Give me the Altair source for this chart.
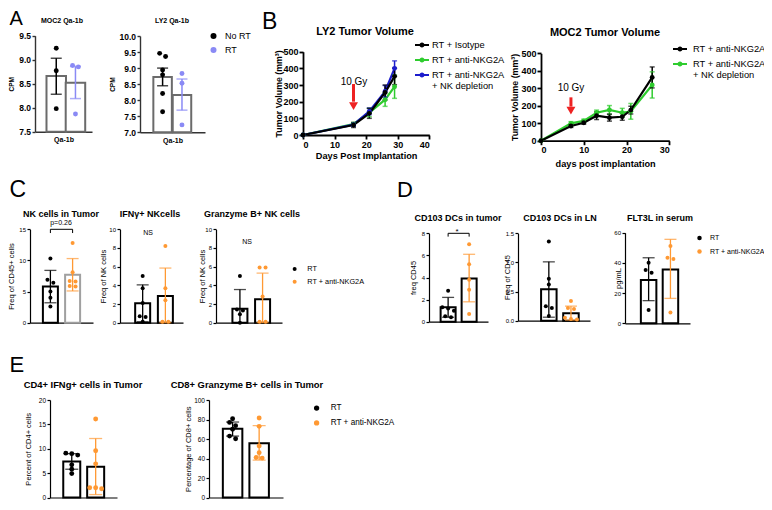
import altair as alt
import pandas as pd

FONT = "Liberation Sans"
W, H = 756, 494
M = 8  # page margin: reference pixel -> chart pixel

BLACK = "#000000"
LAVENDER = "#8a8af5"
ORANGE = "#ff9933"
GREEN = "#2ecc2e"
BLUE = "#1c1ccc"
RED = "#ee2222"
GRAY_BAR = "#6b6b6b"
LIGHT_BAR = "#a0a0a0"

# ---------------- data ----------------
A_GROUPS = ["No RT", "RT"]
A1_NO_RT = [9.24, 8.77, 7.98]
A1_RT = [8.88, 8.85, 7.87]
A1_MEAN = [8.66, 8.52]
A1_LOW = [8.28, 8.19]
A1_HIGH = [9.03, 8.86]

A2_NO_RT = [9.46, 9.36, 8.94, 8.79, 8.21, 7.64]
A2_RT = [8.83, 8.53, 7.23]
A2_MEAN = [8.72, 8.16]
A2_LOW = [8.45, 7.69]
A2_HIGH = [9.00, 8.66]

B1_SERIES = ["RT + Isotype", "RT + anti-NKG2A", "RT + anti-NKG2A + NK depletion"]
B1_DAYS = [0, 16, 21, 26, 29]
B1_ISOTYPE = [0, 60, 130, 255, 352]
B1_ISOTYPE_ERR = [0, 15, 30, 45, 50]
B1_ANTI = [0, 65, 135, 212, 290]
B1_ANTI_ERR = [0, 10, 25, 40, 70]
B1_NKDEP = [0, 62, 142, 262, 400]
B1_NKDEP_ERR = [0, 10, 20, 35, 45]
B1_ARROW = [16, 306, 200, 174]  # day, shaft top, shaft bottom, head centre

B2_SERIES = ["RT + anti-NKG2A", "RT + anti-NKG2A + NK depletion"]
B2_DAYS = [0, 7, 10, 13, 16, 19, 21, 26]
B2_ANTI = [0, 84, 103, 143, 132, 137, 175, 362]
B2_ANTI_ERR = [0, 8, 8, 22, 20, 20, 22, 60]
B2_NKDEP = [0, 99, 113, 160, 176, 160, 168, 319]
B2_NKDEP_ERR = [0, 10, 10, 15, 25, 25, 45, 75]
B2_ARROW = [7, 248, 195, 172]

GROUPS = ["RT", "RT + anti-NKG2A"]
C1_RT = [10.3, 6.9, 6.4, 5.0, 4.0, 2.6]
C1_ANTI = [12.8, 8.1, 6.7, 6.6, 5.9, 5.8]
C1_MEAN = [5.8, 7.7]
C1_LOW = [3.2, 5.1]
C1_HIGH = [8.4, 10.3]
C1_BRACKET = [14.4, 15.0, 15.0, 14.4]

C2_RT = [5.0, 3.7, 2.1, 0.7, 0.6, 0.1]
C2_ANTI = [8.2, 3.7, 2.4, 0.1, 0.1]
C2_MEAN = [2.07, 2.85]
C2_LOW = [0.1, 0.0]
C2_HIGH = [4.05, 5.85]

C3_RT = [5.0, 1.4, 1.3, 0.9, 0.0]
C3_ANTI = [5.9, 5.9, 2.8, 0.1, 0.1]
C3_MEAN = [1.5, 2.5]
C3_LOW = [0.0, 0.0]
C3_HIGH = [3.55, 5.3]

D1_RT = [2.8, 1.3, 1.2, 1.0, 0.5, 0.4]
D1_ANTI = [7.0, 5.2, 3.8, 2.9, 0.7]
D1_MEAN = [1.3, 3.92]
D1_LOW = [0.4, 1.8]
D1_HIGH = [2.2, 6.1]
D1_BRACKET = [7.7, 8.0, 8.0, 7.7]

D2_RT = [1.36, 0.72, 0.62, 0.25, 0.22, 0.08]
D2_ANTI = [0.34, 0.22, 0.20, 0.05, 0.03, 0.02]
D2_MEAN = [0.54, 0.13]
D2_LOW = [0.06, 0.01]
D2_HIGH = [1.01, 0.25]

D3_RT = [40.1, 35.3, 33.5, 8.8]
D3_ANTI = [51.2, 43.4, 42.6, 7.1]
D3_MEAN = [28.7, 35.7]
D3_LOW = [15.0, 16.5]
D3_HIGH = [43.4, 55.6]

E1_RT = [9.1, 9.0, 8.7, 6.7, 5.8, 4.9]
E1_ANTI = [16.1, 9.6, 6.9, 2.0, 2.0, 1.8]
E1_MEAN = [7.4, 6.3]
E1_LOW = [5.8, 0.6]
E1_HIGH = [9.0, 12.1]

E2_RT = [80.8, 77.0, 73.7, 70.0, 63.0, 60.3]
E2_ANTI = [81.5, 73.0, 52.9, 46.0, 41.0, 40.4]
E2_MEAN = [70.4, 55.6]
E2_LOW = [63.0, 38.4]
E2_HIGH = [77.4, 73.7]

# ---------------- helpers ----------------


def cond_color(groups, colors):
    conds = [{"test": "datum.grp === '%s'" % g, "value": c}
             for g, c in zip(groups[:-1], colors[:-1])]
    return alt.value(colors[-1], condition=conds)


def spread(vals, ppu, gap=7.0, thr=3.5):
    idx = sorted(range(len(vals)), key=lambda i: -vals[i])
    clusters = []
    for i in idx:
        if clusters and (vals[clusters[-1][-1]] - vals[i]) * ppu < thr:
            clusters[-1].append(i)
        else:
            clusters.append([i])
    off = [0.0] * len(vals)
    for cl in clusters:
        n = len(cl)
        for k, i in enumerate(cl):
            off[i] = (k - (n - 1) / 2) * gap
    return off


def dot_legend(x, y, size, font, offset, rowpad):
    return alt.Legend(orient="none", legendX=x - M, legendY=y - M, title=None,
                      direction="vertical", symbolType="circle", symbolSize=size,
                      symbolStrokeWidth=0, labelFont=FONT, labelFontSize=font,
                      labelOffset=offset, rowPadding=rowpad, padding=0,
                      labelLimit=300, labelColor="black")


ST_A = dict(dw=1.4, axis_color="#333333", tick=3, lab_size=8.5, lab_weight="bold",
            lab_pad=1.5, yt_size=6.5, yt_weight="bold", xt_size=7, xt_dy=4,
            bar_sw=2, ew=1.5, cap=11, dot=24)
ST_C = dict(dw=1.2, axis_color="black", tick=3, lab_size=6, lab_weight="normal",
            lab_pad=1.5, yt_size=7.5, yt_weight="normal", bar_sw=2, ew=1.3,
            cap=12, dot=16)
ST_E = dict(ST_C, lab_size=6.5, dot=24, cap=13)


def bar_panel(groups, point_sets, means, lows, highs, ydom, yvals, yfmt,
              xgeom, ygeom, point_colors, bar_strokes, ytitle, ytitle_right, st,
              xtitle=None, legend=None, bracket=None):
    a, b, c1, c2, bw = xgeom
    y0, y1 = ygeom
    s = c2 - c1
    xs = alt.Scale(domain=[-(c1 - a) / s, 1 + (b - c2) / s], range=[a - M, b - M],
                   nice=False, zero=False)
    ys = alt.Scale(domain=ydom, range=[y0 - M, y1 - M], zero=False, nice=False)
    xkw = dict(orient="bottom", offset=(y0 - M) - H, labels=False, ticks=False,
               domainWidth=st["dw"], domainColor=st["axis_color"], grid=False)
    if xtitle:
        xkw.update(title=xtitle, titleFontSize=st["xt_size"], titleFontWeight="bold",
                   titleX=(a + b) / 2 - M, titleY=st["xt_dy"], titleAlign="center",
                   titleBaseline="top", titleColor="black")
    else:
        xkw["title"] = None
    xaxis = alt.Axis(**xkw)
    yaxis = alt.Axis(orient="left", offset=-(a - M), values=yvals, format=yfmt,
                     title=ytitle, titleX=ytitle_right - a, titleY=(y0 + y1) / 2 - M,
                     titleAngle=270, titleAlign="center", titleBaseline="bottom",
                     titleFontSize=st["yt_size"], titleFontWeight=st["yt_weight"],
                     titleColor="black", labelFontSize=st["lab_size"],
                     labelFontWeight=st["lab_weight"], labelPadding=st["lab_pad"],
                     labelColor="black", tickSize=st["tick"], tickWidth=st["dw"],
                     domainWidth=st["dw"], domainColor=st["axis_color"],
                     tickColor=st["axis_color"], grid=False)

    def X(f):
        return alt.X(f, scale=xs, axis=xaxis)

    def Y(f):
        return alt.Y(f, scale=ys, axis=yaxis)

    bdf = pd.DataFrame({"grp": groups, "pos": [0, 1], "mean": means, "lo": lows,
                        "hi": highs})
    ppu = (y0 - y1) / (ydom[1] - ydom[0])
    rows = []
    for gi, (g, vals) in enumerate(zip(groups, point_sets)):
        offs = spread(vals, ppu)
        for v, o in zip(vals, offs):
            rows.append({"grp": g, "v": v, "pos": gi + o / s})
    pdf = pd.DataFrame(rows)

    pc = cond_color(groups, point_colors)
    bars = alt.Chart(bdf).mark_bar(fill="white", strokeWidth=st["bar_sw"], opacity=1,
                                   size=bw, orient="vertical").encode(
        x=X("pos:Q"), y=Y("mean:Q"), y2=alt.datum(ydom[0]),
        stroke=cond_color(groups, bar_strokes))
    err = alt.Chart(bdf).mark_rule(strokeWidth=st["ew"]).encode(
        x=X("pos:Q"), y=Y("lo:Q"), y2="hi:Q", color=pc)
    cap_lo = alt.Chart(bdf).mark_tick(orient="horizontal", size=st["cap"],
                                      thickness=st["ew"]).encode(
        x=X("pos:Q"), y=Y("lo:Q"), color=pc)
    cap_hi = alt.Chart(bdf).mark_tick(orient="horizontal", size=st["cap"],
                                      thickness=st["ew"]).encode(
        x=X("pos:Q"), y=Y("hi:Q"), color=pc)
    if legend is not None:
        col = alt.Color("grp:N", scale=alt.Scale(domain=groups, range=point_colors),
                        legend=legend)
    else:
        col = pc
    pts = alt.Chart(pdf).mark_circle(size=st["dot"], opacity=1).encode(
        x=X("pos:Q"), y=Y("v:Q"), color=col)
    layers = [bars, err, cap_lo, cap_hi, pts]
    if bracket is not None:
        brdf = pd.DataFrame({"pos": [0, 0, 1, 1], "y": bracket, "k": [0, 1, 2, 3]})
        layers.append(alt.Chart(brdf).mark_line(color="black", strokeWidth=1).encode(
            x=X("pos:Q"), y=Y("y:Q"), order="k:Q"))
    return alt.layer(*layers)


B_LEGEND_PATH = ("M-1,-0.16L1,-0.16L1,0.16L-1,0.16Z "
                 "M0.36,0A0.36,0.36,0,1,1,-0.36,0A0.36,0.36,0,1,1,0.36,0Z")
B_LABEL_EXPR = ("datum.label == 'RT + anti-NKG2A + NK depletion' ? "
                "['RT + anti-NKG2A', '  + NK depletion'] : datum.label")


def line_panel(names, colors, days, series, errs, draw_order, xdom, xvals, xgeom,
               ydom, yvals, ygeom, xtitle, xtitle_top, ytitle, ytitle_right,
               legend_xy, label_offset, arrow):
    x0, x1 = xgeom
    y0, y1 = ygeom
    rows = []
    for i in draw_order:
        for d, v, e in zip(days, series[i], errs[i]):
            rows.append(dict(day=d, v=v, lo=v - e, hi=v + e, err=e, grp=names[i]))
    df = pd.DataFrame(rows)
    xs = alt.Scale(domain=xdom, range=[x0 - M, x1 - M], nice=False, zero=False)
    ys = alt.Scale(domain=ydom, range=[y0 - M, y1 - M], nice=False, zero=False)
    xaxis = alt.Axis(orient="bottom", offset=(y0 - M) - H, values=xvals, format="d",
                     title=xtitle, titleX=(x0 + x1) / 2 - M, titleY=xtitle_top - y0,
                     titleAlign="center", titleBaseline="top", titleFontSize=9.2,
                     titleFontWeight="bold", titleColor="black", labelFontSize=9,
                     labelFontWeight="bold", labelColor="black", labelPadding=1,
                     tickSize=4, tickWidth=1.8, domainWidth=1.8, domainColor="black",
                     tickColor="black", grid=False)
    yaxis = alt.Axis(orient="left", offset=-(x0 - M), values=yvals, format="d",
                     title=ytitle, titleX=ytitle_right - x0, titleY=(y0 + y1) / 2 - M,
                     titleAngle=270, titleAlign="center", titleBaseline="bottom",
                     titleFontSize=8.8, titleFontWeight="bold", titleColor="black",
                     labelFontSize=9, labelFontWeight="bold", labelColor="black",
                     labelPadding=1, tickSize=4, tickWidth=1.8, domainWidth=1.8,
                     domainColor="black", tickColor="black", grid=False)

    def X(f):
        return alt.X(f, scale=xs, axis=xaxis)

    def Y(f):
        return alt.Y(f, scale=ys, axis=yaxis)

    leg = alt.Legend(orient="none", legendX=legend_xy[0] - M, legendY=legend_xy[1] - M,
                     title=None, direction="vertical", symbolType=B_LEGEND_PATH,
                     symbolSize=196, symbolStrokeWidth=0, labelFont=FONT,
                     labelFontSize=9.3, labelOffset=label_offset, rowPadding=2,
                     padding=0, labelLimit=300, labelColor="black",
                     labelExpr=B_LABEL_EXPR)
    cc = cond_color(names, colors)
    lines = alt.Chart(df).mark_line(strokeWidth=2.2).encode(
        x=X("day:Q"), y=Y("v:Q"), detail="grp:N", color=cc)
    edf = alt.Chart(df).transform_filter("datum.err > 0")
    err = edf.mark_rule(strokeWidth=1.5).encode(
        x=X("day:Q"), y=Y("lo:Q"), y2="hi:Q", color=cc)
    cap_lo = edf.mark_tick(orient="horizontal", size=5, thickness=1.5).encode(
        x=X("day:Q"), y=Y("lo:Q"), color=cc)
    cap_hi = edf.mark_tick(orient="horizontal", size=5, thickness=1.5).encode(
        x=X("day:Q"), y=Y("hi:Q"), color=cc)
    pts = alt.Chart(df).mark_circle(size=24, opacity=1).encode(
        x=X("day:Q"), y=Y("v:Q"),
        color=alt.Color("grp:N", scale=alt.Scale(domain=names, range=colors), legend=leg))
    adf = pd.DataFrame({"day": [arrow[0]], "top": [arrow[1]], "bottom": [arrow[2]],
                        "head": [arrow[3]]})
    shaft = alt.Chart(adf).mark_rule(color=RED, strokeWidth=3).encode(
        x=X("day:Q"), y=Y("top:Q"), y2="bottom:Q")
    head = alt.Chart(adf).mark_point(shape="triangle-down", filled=True, size=80,
                                     color=RED, opacity=1, strokeWidth=0).encode(
        x=X("day:Q"), y=Y("head:Q"))
    return alt.layer(lines, err, cap_lo, cap_hi, pts, shaft, head)


def label(text, x, y, size, weight="normal", align="center", baseline="middle"):
    return alt.Chart(pd.DataFrame({"t": [text]})).mark_text(
        text=text, fontSize=size, fontWeight=weight, align=align, baseline=baseline,
        color="black", font=FONT).encode(x=alt.value(x - M), y=alt.value(y - M))


# ---------------- panels ----------------
layers = []

# A
layers.append(bar_panel(A_GROUPS, [A1_NO_RT, A1_RT], A1_MEAN, A1_LOW, A1_HIGH,
                        [7.5, 9.5], [7.5, 8.0, 8.5, 9.0, 9.5], ".1f",
                        (35, 92, 54.7, 78, 19.5), (131.7, 35.7),
                        [BLACK, LAVENDER], [GRAY_BAR, GRAY_BAR], "CPM", 14.5, ST_A,
                        xtitle="Qa-1b"))
layers.append(bar_panel(A_GROUPS, [A2_NO_RT, A2_RT], A2_MEAN, A2_LOW, A2_HIGH,
                        [7.0, 10.0], [7.0, 7.5, 8.0, 8.5, 9.0, 9.5, 10.0], ".1f",
                        (140, 205, 160.8, 183.7, 18.5), (132.3, 36),
                        [BLACK, LAVENDER], [GRAY_BAR, GRAY_BAR], "CPM", 115, ST_A,
                        xtitle="Qa-1b",
                        legend=dot_legend(209, 31.5, 36, 9, 7, 4)))

# B
layers.append(line_panel(B1_SERIES, [BLACK, GREEN, BLUE], B1_DAYS,
                         [B1_ISOTYPE, B1_ANTI, B1_NKDEP],
                         [B1_ISOTYPE_ERR, B1_ANTI_ERR, B1_NKDEP_ERR], [1, 2, 0],
                         [0, 40], [0, 10, 20, 30, 40], (303, 429.3),
                         [0, 500], [0, 100, 200, 300, 400, 500], (135, 51.7),
                         "Days Post Implantation", 151, "Tumor Volume (mm³)", 283,
                         (415, 38), 3, B1_ARROW))
layers.append(line_panel(B2_SERIES, [BLACK, GREEN], B2_DAYS,
                         [B2_ANTI, B2_NKDEP], [B2_ANTI_ERR, B2_NKDEP_ERR], [1, 0],
                         [0, 30], [0, 10, 20, 30], (541, 669.3),
                         [0, 500], [0, 100, 200, 300, 400, 500], (140.7, 53.3),
                         "days post implantation", 159, "Tumor Volume (mm³)", 519,
                         (673, 42), 6, B2_ARROW))

# C
layers.append(bar_panel(GROUPS, [C1_RT, C1_ANTI], C1_MEAN, C1_LOW, C1_HIGH,
                        [0, 15], [0, 5, 10, 15], "d", (30, 93, 48.3, 74.7, 15),
                        (322.7, 229.3), [BLACK, ORANGE], [BLACK, LIGHT_BAR],
                        "Freq of  CD45+ cells", 15, ST_C, bracket=C1_BRACKET))
layers.append(bar_panel(GROUPS, [C2_RT, C2_ANTI], C2_MEAN, C2_LOW, C2_HIGH,
                        [0, 10], [0, 2, 4, 6, 8, 10], "d", (120, 183, 141, 168, 15),
                        (322.7, 229.3), [BLACK, ORANGE], [BLACK, BLACK],
                        "Freq of  NK cells", 107, ST_C))
layers.append(bar_panel(GROUPS, [C3_RT, C3_ANTI], C3_MEAN, C3_LOW, C3_HIGH,
                        [0, 10], [0, 2, 4, 6, 8, 10], "d", (216, 282, 238.3, 265, 15),
                        (322.7, 229.3), [BLACK, ORANGE], [BLACK, BLACK],
                        "Freq of  NK cells", 206, ST_C,
                        legend=dot_legend(291, 265.3, 16, 7.3, 9, 4.7)))

# D
layers.append(bar_panel(GROUPS, [D1_RT, D1_ANTI], D1_MEAN, D1_LOW, D1_HIGH,
                        [0, 8], [0, 2, 4, 6, 8], "d", (429, 488, 446, 471.3, 15),
                        (321.7, 233.3), [BLACK, ORANGE], [BLACK, BLACK],
                        "freq CD45", 417, ST_C, bracket=D1_BRACKET))
layers.append(bar_panel(GROUPS, [D2_RT, D2_ANTI], D2_MEAN, D2_LOW, D2_HIGH,
                        [0, 1.5], [0, 0.5, 1.0, 1.5], ".1f", (518, 590, 548, 573.7, 15.5),
                        (320.7, 233.3), [BLACK, ORANGE], [BLACK, BLACK],
                        "Freq of CD45", 511, ST_C))
layers.append(bar_panel(GROUPS, [D3_RT, D3_ANTI], D3_MEAN, D3_LOW, D3_HIGH,
                        [0, 60], [0, 20, 40, 60], "d", (625, 690, 647, 672.8, 15.5),
                        (323.3, 232.7), [BLACK, ORANGE], [BLACK, BLACK],
                        "pg/mL", 622, ST_C,
                        legend=dot_legend(696, 234.5, 20, 7, 7, 5.5)))

# E (bottom axis kept inside the page)
layers.append(bar_panel(GROUPS, [E1_RT, E1_ANTI], E1_MEAN, E1_LOW, E1_HIGH,
                        [0, 20], [0, 5, 10, 15, 20], "d", (50, 117, 69.7, 97.8, 17),
                        (497.5, 400), [BLACK, ORANGE], [BLACK, BLACK],
                        "Percent of  CD4+ cells", 32, ST_E))
layers.append(bar_panel(GROUPS, [E2_RT, E2_ANTI], E2_MEAN, E2_LOW, E2_HIGH,
                        [0, 100], [0, 20, 40, 60, 80, 100], "d", (209, 283, 230.5, 261.2, 19.5),
                        (497.5, 400), [BLACK, ORANGE], [BLACK, BLACK],
                        "Percentage of  CD8+ cells", 192, ST_E,
                        legend=dot_legend(312.5, 404, 28, 8.2, 10, 5.8)))

# text: panel letters, titles, annotations
texts = [
    ("A", 9.5, 25, 20, "normal", "left", "alphabetic"),
    ("B", 262, 28.5, 23, "normal", "left", "alphabetic"),
    ("C", 9.5, 197, 23, "normal", "left", "alphabetic"),
    ("D", 397, 197, 22, "normal", "left", "alphabetic"),
    ("E", 9.5, 372, 22, "normal", "left", "alphabetic"),
    ("MOC2 Qa-1b", 62, 21, 7, "bold", "center", "middle"),
    ("LY2 Qa-1b", 172, 21, 7, "bold", "center", "middle"),
    ("LY2 Tumor Volume", 365, 32, 11, "bold", "center", "middle"),
    ("MOC2 Tumor Volume", 605, 33, 11, "bold", "center", "middle"),
    ("10 Gy", 354, 82, 10, "normal", "center", "middle"),
    ("10 Gy", 571, 88, 10, "normal", "center", "middle"),
    ("NK cells in Tumor", 61, 214, 9, "bold", "center", "middle"),
    ("IFNγ+ NKcells", 150, 214, 9, "bold", "center", "middle"),
    ("Granzyme B+ NK cells", 252, 214, 9, "bold", "center", "middle"),
    ("p=0.26", 61, 222.5, 7, "normal", "center", "middle"),
    ("NS", 148, 233, 7, "normal", "center", "middle"),
    ("NS", 247, 242, 7, "normal", "center", "middle"),
    ("CD103 DCs in tumor", 458, 218, 9, "bold", "center", "middle"),
    ("CD103 DCs in LN", 560, 218, 9, "bold", "center", "middle"),
    ("FLT3L in serum", 660, 218, 9, "bold", "center", "middle"),
    ("*", 457, 232, 8, "normal", "center", "middle"),
    ("CD4+ IFNg+ cells in Tumor", 83, 385, 9.4, "bold", "center", "middle"),
    ("CD8+ Granzyme B+ cells in Tumor", 247, 385, 9.4, "bold", "center", "middle"),
]
for t in texts:
    layers.append(label(*t))

chart = (
    alt.layer(*layers)
    .resolve_scale(x="independent", y="independent", color="independent")
    .properties(width=W, height=H, autosize=alt.AutoSizeParams(type="none"), padding=0)
    .configure_view(stroke=None)
    .configure_axis(grid=False, labelFont=FONT, titleFont=FONT)
    .configure_legend(labelFont=FONT)
    .configure_text(font=FONT)
)

chart.save("out.html", embed_options={"renderer": "svg", "actions": False})
